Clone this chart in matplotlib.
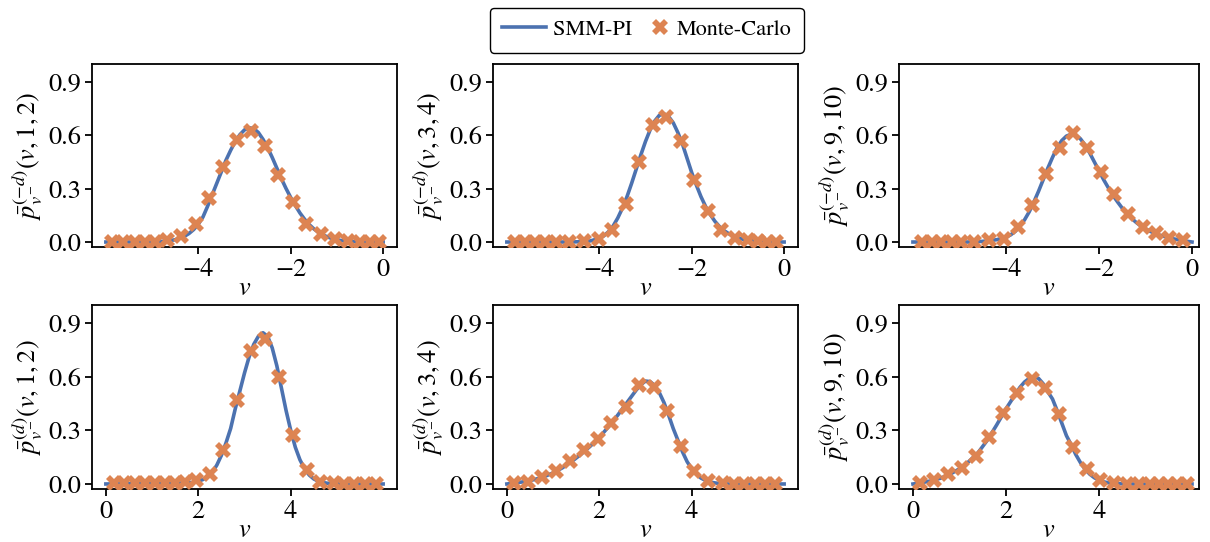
import matplotlib
matplotlib.use("Agg")
import matplotlib.pyplot as plt
from matplotlib.lines import Line2D
from matplotlib.legend_handler import HandlerLine2D

plt.rcParams.update({
    "font.family": ["STIXGeneral", "DejaVu Serif"],
    "mathtext.fontset": "stix",
    "font.size": 19,
    "axes.linewidth": 1.3,
    "xtick.major.width": 1.3,
    "ytick.major.width": 1.3,
    "xtick.major.size": 5,
    "ytick.major.size": 5,
    "xtick.labelsize": 19,
    "ytick.labelsize": 19,
})

LINE_COLOR = "#4C72B0"
MC_COLOR = "#DD8452"

# ---- SMM-PI curves (negative side, v in [-6, 0]) ----
neg_12_v = [-6.0, -5.2, -5.0, -4.8, -4.6, -4.5, -4.4, -4.3, -4.2, -4.1, -4.0, -3.9, -3.8, -3.7,
            -3.6, -3.5, -3.4, -3.3, -3.2, -3.1, -3.0, -2.9, -2.8, -2.7, -2.6, -2.5, -2.4, -2.3,
            -2.2, -2.1, -2.0, -1.9, -1.8, -1.7, -1.6, -1.5, -1.4, -1.3, -1.2, -1.1, -1.0, -0.9,
            -0.7, -0.5, -0.3, 0.0]
neg_12_p = [0.0, 0.0, 0.001, 0.003, 0.008, 0.013, 0.021, 0.032, 0.048, 0.07, 0.10, 0.14, 0.20, 0.265,
            0.33, 0.395, 0.46, 0.515, 0.565, 0.603, 0.63, 0.642, 0.637, 0.615, 0.577, 0.53, 0.475, 0.415,
            0.355, 0.30, 0.25, 0.205, 0.163, 0.128, 0.098, 0.074, 0.055, 0.04, 0.028, 0.019, 0.013, 0.008,
            0.003, 0.001, 0.0, 0.0]

neg_34_v = [-6.0, -4.6, -4.4, -4.2, -4.0, -3.9, -3.8, -3.7, -3.6, -3.5, -3.4, -3.3, -3.2, -3.1,
            -3.0, -2.9, -2.8, -2.7, -2.6, -2.5, -2.4, -2.3, -2.2, -2.1, -2.0, -1.9, -1.8, -1.7,
            -1.6, -1.5, -1.4, -1.3, -1.2, -1.1, -1.0, -0.9, -0.8, -0.6, -0.4, -0.2, 0.0]
neg_34_p = [0.0, 0.0, 0.002, 0.006, 0.02, 0.035, 0.058, 0.09, 0.135, 0.19, 0.255, 0.33, 0.41, 0.49,
            0.565, 0.63, 0.68, 0.712, 0.72, 0.705, 0.67, 0.615, 0.55, 0.47, 0.39, 0.32, 0.255, 0.20,
            0.155, 0.117, 0.087, 0.064, 0.047, 0.034, 0.024, 0.016, 0.011, 0.005, 0.002, 0.0, 0.0]

neg_910_v = [-6.0, -4.8, -4.6, -4.4, -4.2, -4.0, -3.9, -3.8, -3.7, -3.6, -3.5, -3.4, -3.3, -3.2,
             -3.1, -3.0, -2.9, -2.8, -2.7, -2.6, -2.5, -2.4, -2.3, -2.2, -2.1, -2.0, -1.9, -1.8,
             -1.7, -1.6, -1.5, -1.4, -1.3, -1.2, -1.1, -1.0, -0.9, -0.8, -0.7, -0.6, -0.5, -0.4,
             -0.3, -0.2, -0.1, 0.0]
neg_910_p = [0.0, 0.0, 0.002, 0.006, 0.013, 0.027, 0.04, 0.06, 0.088, 0.125, 0.17, 0.225, 0.285, 0.35,
             0.415, 0.475, 0.53, 0.57, 0.595, 0.605, 0.60, 0.58, 0.545, 0.50, 0.45, 0.40, 0.35, 0.305,
             0.262, 0.225, 0.19, 0.16, 0.133, 0.11, 0.09, 0.074, 0.06, 0.049, 0.039, 0.031, 0.024, 0.018,
             0.013, 0.008, 0.004, 0.0]

# ---- SMM-PI curves (positive side, v in [0, 6]) ----
pos_12_v = [0.0, 1.0, 1.5, 1.8, 1.9, 2.0, 2.1, 2.2, 2.3, 2.4, 2.5, 2.6, 2.7, 2.8, 2.9, 3.0, 3.1,
            3.2, 3.3, 3.4, 3.5, 3.6, 3.7, 3.8, 3.9, 4.0, 4.1, 4.2, 4.3, 4.4, 4.5, 4.6, 4.7, 4.8,
            5.0, 5.3, 6.0]
pos_12_p = [0.0, 0.002, 0.004, 0.007, 0.009, 0.015, 0.025, 0.04, 0.065, 0.105, 0.16, 0.23, 0.31, 0.42,
            0.52, 0.62, 0.71, 0.78, 0.825, 0.845, 0.825, 0.76, 0.66, 0.535, 0.41, 0.30, 0.205, 0.135,
            0.085, 0.05, 0.028, 0.015, 0.008, 0.004, 0.001, 0.0, 0.0]

pos_34_v = [0.0, 0.2, 0.4, 0.6, 0.8, 1.0, 1.2, 1.4, 1.6, 1.8, 2.0, 2.2, 2.4, 2.6, 2.7, 2.8, 2.9,
            3.0, 3.1, 3.2, 3.3, 3.4, 3.5, 3.6, 3.7, 3.8, 3.9, 4.0, 4.1, 4.2, 4.3, 4.4, 4.5, 4.6,
            4.8, 6.0]
pos_34_p = [0.0, 0.006, 0.014, 0.025, 0.04, 0.062, 0.09, 0.125, 0.165, 0.21, 0.26, 0.32, 0.385, 0.455,
            0.49, 0.525, 0.555, 0.575, 0.572, 0.55, 0.51, 0.455, 0.385, 0.31, 0.245, 0.18, 0.125, 0.085,
            0.055, 0.033, 0.02, 0.011, 0.006, 0.003, 0.0, 0.0]

pos_910_v = [0.0, 0.2, 0.4, 0.6, 0.8, 1.0, 1.2, 1.4, 1.6, 1.8, 2.0, 2.1, 2.2, 2.3, 2.4, 2.5, 2.6,
             2.7, 2.8, 2.9, 3.0, 3.1, 3.2, 3.3, 3.4, 3.5, 3.6, 3.7, 3.8, 3.9, 4.0, 4.1, 4.2, 4.4,
             4.6, 6.0]
pos_910_p = [0.0, 0.008, 0.018, 0.033, 0.055, 0.085, 0.125, 0.175, 0.245, 0.33, 0.42, 0.46, 0.50, 0.54,
             0.57, 0.59, 0.598, 0.59, 0.56, 0.515, 0.475, 0.41, 0.34, 0.27, 0.22, 0.165, 0.12, 0.083,
             0.055, 0.035, 0.021, 0.012, 0.007, 0.002, 0.0, 0.0]

# ---- Monte-Carlo estimates ----
mc_neg_12_v = [-5.87, -5.62, -5.38, -5.15, -4.94, -4.68, -4.38, -4.05, -3.76, -3.47, -3.16, -2.87,
               -2.56, -2.27, -1.95, -1.66, -1.35, -1.05, -0.76, -0.50, -0.28, -0.10]
mc_neg_12_p = [0.0, 0.0, 0.0, 0.0, 0.002, 0.01, 0.034, 0.10, 0.248, 0.42, 0.575, 0.623,
               0.54, 0.379, 0.225, 0.103, 0.047, 0.019, 0.005, 0.002, 0.0, 0.0]

mc_neg_34_v = [-5.82, -5.61, -5.40, -5.18, -4.94, -4.65, -4.33, -4.01, -3.73, -3.42, -3.13, -2.83,
               -2.56, -2.24, -1.95, -1.65, -1.36, -1.07, -0.78, -0.57, -0.37, -0.18]
mc_neg_34_p = [0.0, 0.0, 0.0, 0.0, 0.0, 0.0, 0.004, 0.019, 0.07, 0.216, 0.45, 0.656,
               0.70, 0.566, 0.347, 0.174, 0.069, 0.024, 0.013, 0.004, 0.0, 0.0]

mc_neg_910_v = [-5.81, -5.60, -5.39, -5.17, -4.96, -4.68, -4.36, -4.04, -3.74, -3.43, -3.13, -2.84,
                -2.56, -2.26, -1.96, -1.67, -1.37, -1.06, -0.78, -0.49, -0.19]
mc_neg_910_p = [0.0, 0.0, 0.0, 0.0, 0.0, 0.002, 0.009, 0.019, 0.084, 0.21, 0.384, 0.53,
                0.61, 0.53, 0.394, 0.268, 0.16, 0.084, 0.05, 0.024, 0.009]

mc_pos_12_v = [0.17, 0.40, 0.63, 0.85, 1.07, 1.28, 1.50, 1.72, 1.96, 2.25, 2.53, 2.84, 3.13, 3.44,
               3.75, 4.05, 4.35, 4.64, 4.93, 5.16, 5.38, 5.61, 5.85]
mc_pos_12_p = [0.004, 0.005, 0.006, 0.007, 0.008, 0.008, 0.008, 0.01, 0.02, 0.056, 0.19, 0.47, 0.745,
               0.81, 0.60, 0.276, 0.079, 0.013, 0.003, 0.0, 0.0, 0.0, 0.0]

mc_pos_34_v = [0.15, 0.46, 0.77, 1.07, 1.37, 1.66, 1.97, 2.26, 2.57, 2.87, 3.18, 3.47, 3.76, 4.04,
               4.35, 4.67, 4.92, 5.14, 5.38, 5.59, 5.81]
mc_pos_34_p = [0.004, 0.01, 0.038, 0.075, 0.13, 0.19, 0.254, 0.34, 0.43, 0.552, 0.54, 0.41, 0.214,
               0.075, 0.017, 0.004, 0.0, 0.0, 0.0, 0.0, 0.0]

mc_pos_910_v = [0.16, 0.45, 0.76, 1.06, 1.35, 1.64, 1.94, 2.24, 2.55, 2.84, 3.14, 3.45, 3.74, 4.03,
                4.32, 4.60, 4.86, 5.09, 5.29, 5.48, 5.68, 5.90]
mc_pos_910_p = [0.008, 0.023, 0.056, 0.088, 0.158, 0.26, 0.395, 0.51, 0.586, 0.534, 0.39, 0.207,
                0.083, 0.023, 0.004, 0.0, 0.0, 0.0, 0.0, 0.0, 0.0, 0.0]

param_labels = ["1,2", "3,4", "9,10"]
y_ticks = [0.0, 0.3, 0.6, 0.9]
neg_xticks = [-4, -2, 0]
pos_xticks = [0, 2, 4]

panels = [
    # (row, col, curve v, curve p, mc v, mc p, superscript)
    (0, 0, neg_12_v, neg_12_p, mc_neg_12_v, mc_neg_12_p, "(-d)"),
    (0, 1, neg_34_v, neg_34_p, mc_neg_34_v, mc_neg_34_p, "(-d)"),
    (0, 2, neg_910_v, neg_910_p, mc_neg_910_v, mc_neg_910_p, "(-d)"),
    (1, 0, pos_12_v, pos_12_p, mc_pos_12_v, mc_pos_12_p, "(d)"),
    (1, 1, pos_34_v, pos_34_p, mc_pos_34_v, mc_pos_34_p, "(d)"),
    (1, 2, pos_910_v, pos_910_p, mc_pos_910_v, mc_pos_910_p, "(d)"),
]

W, H = 1210, 542
fig = plt.figure(figsize=(W / 100, H / 100), dpi=100)

col_px = [(92, 397), (493, 798), (899, 1199)]
row_px = [(64, 247), (305, 489)]

LW = 2.6
MS = 11

for row, col, cv, cp, mv, mp, sup in panels:
    x0, x1 = col_px[col]
    y0, y1 = row_px[row]
    ax = fig.add_axes([x0 / W, 1 - y1 / H, (x1 - x0) / W, (y1 - y0) / H])
    ax.plot(cv, cp, color=LINE_COLOR, lw=LW, zorder=2)
    ax.plot(mv, mp, linestyle="none", marker="X", markersize=MS, markeredgewidth=0,
            color=MC_COLOR, zorder=3)
    right_pad = 0.15 if col == 2 else 0.3
    if row == 0:
        ax.set_xlim(-6.3, right_pad)
        ax.set_xticks(neg_xticks)
    else:
        ax.set_xlim(-0.3, 6.0 + right_pad)
        ax.set_xticks(pos_xticks)
    ax.set_ylim(-0.028, 1.0)
    ax.set_yticks(y_ticks)
    ax.set_yticklabels([f"{t:.1f}" for t in y_ticks])
    ax.tick_params(pad=3)
    ax.set_xlabel(r"$v$", labelpad=-4)
    ax.set_ylabel(r"$\bar{p}^{%s}_{v^{-}}(v,%s)$" % (sup, param_labels[col]), labelpad=2)


class CompactMarkerHandler(HandlerLine2D):
    """Marker-only legend entry drawn in a narrower handle box."""

    def legend_artist(self, legend, orig_handle, fontsize, handlebox):
        handlebox.width = 0.9 * fontsize
        return super().legend_artist(legend, orig_handle, fontsize, handlebox)


line_handle = Line2D([], [], color=LINE_COLOR, lw=LW)
mc_handle = Line2D([], [], linestyle="none", marker="X", markersize=MS, markeredgewidth=0,
                   color=MC_COLOR)
leg = fig.legend([line_handle, mc_handle], ["SMM-PI", "Monte-Carlo"], loc="upper center",
                 bbox_to_anchor=(646.5 / W, 1 - 7.5 / H), borderaxespad=0, ncol=2,
                 frameon=True, fancybox=True, fontsize=16, handlelength=2.0,
                 handletextpad=0.3, columnspacing=0.8, borderpad=0.55,
                 handler_map={mc_handle: CompactMarkerHandler()})
leg.get_frame().set_edgecolor("black")
leg.get_frame().set_linewidth(1.0)
leg.get_frame().set_alpha(1)

fig.savefig("out.png", dpi=100)
